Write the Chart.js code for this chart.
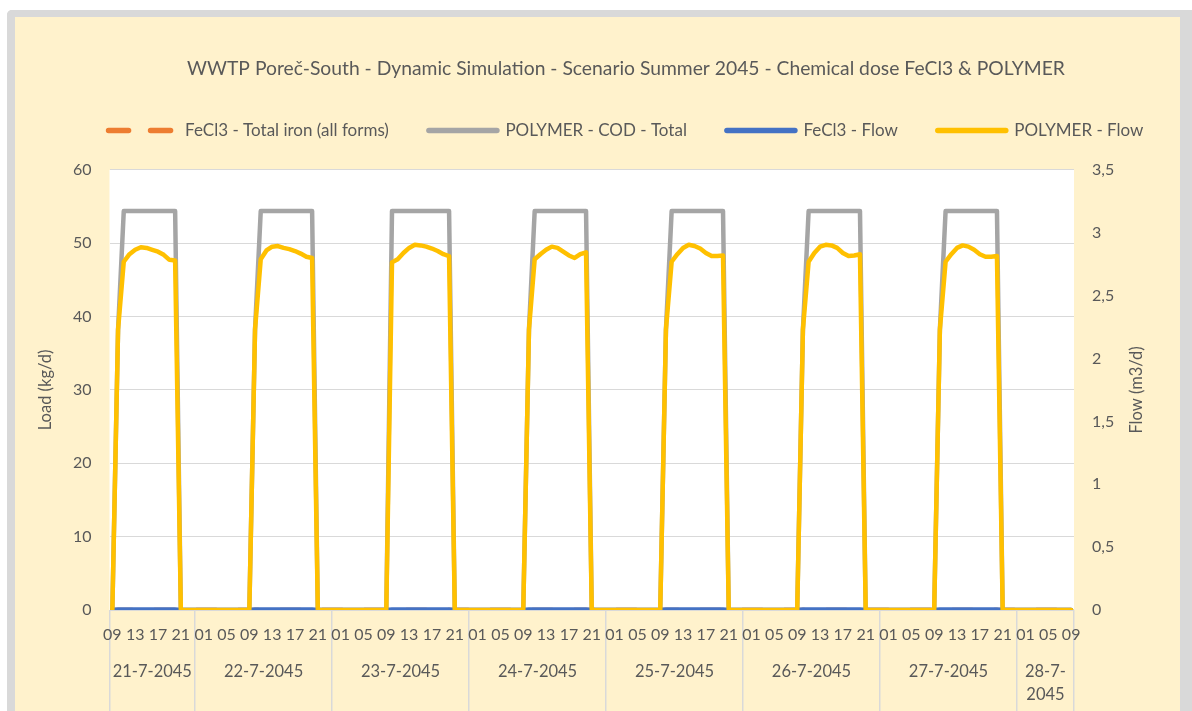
<!DOCTYPE html>
<html>
<head>
<meta charset="utf-8">
<script src="https://cdn.jsdelivr.net/npm/chart.js@4/dist/chart.umd.min.js"></script>
<style>
html,body{margin:0;padding:0;background:#ffffff;overflow:hidden;width:1192px;height:711px;}
#frame{position:absolute;left:7px;top:10px;width:1165px;height:740px;background:#fff2cc;
  border-left:8px solid #d9d9d9;border-top:7px solid #d9d9d9;border-right:12px solid #d9d9d9;border-top-left-radius:5px;}
#c{position:absolute;left:0;top:0;}
</style>
</head>
<body>
<div id="frame"></div>
<canvas id="c" width="1192" height="711" style="width:1192px;height:711px"></canvas>
<script>
// ---------- categories (hourly, 21-7-2045 09:00 to 28-7-2045 09:00) ----------
const hourLabels = [
  '09','10','11','12','13','14','15','16','17','18','19','20','21','22','23',
  '00','01','02','03','04','05','06','07','08','09','10','11','12','13','14','15','16','17','18','19','20','21','22','23',
  '00','01','02','03','04','05','06','07','08','09','10','11','12','13','14','15','16','17','18','19','20','21','22','23',
  '00','01','02','03','04','05','06','07','08','09','10','11','12','13','14','15','16','17','18','19','20','21','22','23',
  '00','01','02','03','04','05','06','07','08','09','10','11','12','13','14','15','16','17','18','19','20','21','22','23',
  '00','01','02','03','04','05','06','07','08','09','10','11','12','13','14','15','16','17','18','19','20','21','22','23',
  '00','01','02','03','04','05','06','07','08','09','10','11','12','13','14','15','16','17','18','19','20','21','22','23',
  '00','01','02','03','04','05','06','07','08','09'
];
const hourStep = 4;
const dayLabels = ['21-7-2045','22-7-2045','23-7-2045','24-7-2045','25-7-2045','26-7-2045','27-7-2045',['28-7-','2045']];
const dayHours = [15, 24, 24, 24, 24, 24, 24, 10];

// ---------- tick labels ----------
const loadTicks = [0, 10, 20, 30, 40, 50, 60];
const flowTicks = [0, 0.5, 1, 1.5, 2, 2.5, 3, 3.5];

// ---------- series ----------
// FeCl3 - Total iron (all forms)  [kg/d, left axis]
const fecl3Iron = [
  0,0,0,0,0,0,0,0,0,0,0,0,0,0,0,
  0,0,0,0,0,0,0,0,0,0,0,0,0,0,0,0,0,0,0,0,0,0,0,0,
  0,0,0,0,0,0,0,0,0,0,0,0,0,0,0,0,0,0,0,0,0,0,0,0,
  0,0,0,0,0,0,0,0,0,0,0,0,0,0,0,0,0,0,0,0,0,0,0,0,
  0,0,0,0,0,0,0,0,0,0,0,0,0,0,0,0,0,0,0,0,0,0,0,0,
  0,0,0,0,0,0,0,0,0,0,0,0,0,0,0,0,0,0,0,0,0,0,0,0,
  0,0,0,0,0,0,0,0,0,0,0,0,0,0,0,0,0,0,0,0,0,0,0,0,
  0,0,0,0,0,0,0,0,0,0
];
// POLYMER - COD - Total  [kg/d, left axis]
const polymerCod = [
  0,38.2,54.4,54.4,54.4,54.4,54.4,54.4,54.4,54.4,54.4,54.4,0,0,0,
  0,0,0,0,0,0,0,0,0,0,38.2,54.4,54.4,54.4,54.4,54.4,54.4,54.4,54.4,54.4,54.4,0,0,0,
  0,0,0,0,0,0,0,0,0,0,54.4,54.4,54.4,54.4,54.4,54.4,54.4,54.4,54.4,54.4,54.4,0,0,0,
  0,0,0,0,0,0,0,0,0,0,38.2,54.4,54.4,54.4,54.4,54.4,54.4,54.4,54.4,54.4,54.4,0,0,0,
  0,0,0,0,0,0,0,0,0,0,38.2,54.4,54.4,54.4,54.4,54.4,54.4,54.4,54.4,54.4,54.4,0,0,0,
  0,0,0,0,0,0,0,0,0,0,38.2,54.4,54.4,54.4,54.4,54.4,54.4,54.4,54.4,54.4,54.4,0,0,0,
  0,0,0,0,0,0,0,0,0,0,38.2,54.4,54.4,54.4,54.4,54.4,54.4,54.4,54.4,54.4,54.4,0,0,0,
  0,0,0,0,0,0,0,0,0,0
];
// FeCl3 - Flow  [m3/d, right axis]
const fecl3Flow = [
  0,0.004,0.004,0.004,0.004,0.004,0.004,0.004,0.004,0.004,0.004,0.004,0,0,0,
  0,0,0,0,0,0,0,0,0,0,0.004,0.004,0.004,0.004,0.004,0.004,0.004,0.004,0.004,0.004,0.004,0,0,0,
  0,0,0,0,0,0,0,0,0,0,0.004,0.004,0.004,0.004,0.004,0.004,0.004,0.004,0.004,0.004,0.004,0,0,0,
  0,0,0,0,0,0,0,0,0,0,0.004,0.004,0.004,0.004,0.004,0.004,0.004,0.004,0.004,0.004,0.004,0,0,0,
  0,0,0,0,0,0,0,0,0,0,0.004,0.004,0.004,0.004,0.004,0.004,0.004,0.004,0.004,0.004,0.004,0,0,0,
  0,0,0,0,0,0,0,0,0,0,0.004,0.004,0.004,0.004,0.004,0.004,0.004,0.004,0.004,0.004,0.004,0,0,0,
  0,0,0,0,0,0,0,0,0,0,0.004,0.004,0.004,0.004,0.004,0.004,0.004,0.004,0.004,0.004,0.004,0,0,0,
  0,0,0,0,0,0,0,0,0,0
];
// POLYMER - Flow  [m3/d, right axis]
const polymerFlow = [
  0,2.23,2.77,2.83,2.865,2.885,2.88,2.865,2.85,2.825,2.785,2.78,0,0,0,
  0,0,0,0,0,0,0,0,0,0,2.23,2.79,2.86,2.89,2.895,2.88,2.87,2.855,2.835,2.81,2.80,0,0,0,
  0,0,0,0,0,0,0,0,0,0,2.765,2.79,2.84,2.88,2.905,2.90,2.89,2.875,2.855,2.83,2.815,0,0,0,
  0,0,0,0,0,0,0,0,0,0,2.23,2.79,2.83,2.865,2.89,2.88,2.85,2.82,2.80,2.83,2.845,0,0,0,
  0,0,0,0,0,0,0,0,0,0,2.23,2.77,2.83,2.88,2.905,2.895,2.875,2.84,2.815,2.815,2.82,0,0,0,
  0,0,0,0,0,0,0,0,0,0,2.23,2.77,2.84,2.89,2.905,2.90,2.88,2.84,2.815,2.82,2.83,0,0,0,
  0,0,0,0,0,0,0,0,0,0,2.23,2.77,2.83,2.88,2.90,2.89,2.865,2.83,2.81,2.81,2.815,0,0,0,
  0,0,0,0,0,0,0,0,0,0
];

const titleText = 'WWTP Poreč-South - Dynamic Simulation - Scenario Summer 2045 - Chemical dose FeCl3 & POLYMER';
const loadAxisTitle = 'Load (kg/d)';
const flowAxisTitle = 'Flow (m3/d)';

// ---------- derived positions of day groups (category units) ----------
const dayBounds = [-0.5];
const dayCenters = [];
let acc = 0;
dayHours.forEach(h => { dayCenters.push(acc + (h - 1) / 2); acc += h; dayBounds.push(acc - 0.5); });
const lastIndex = hourLabels.length - 1;

const TXT = '#595959';
const FAM = "Lato, 'Open Sans', sans-serif";
Chart.defaults.font.family = FAM;
Chart.defaults.font.size = 16;
Chart.defaults.color = TXT;

const paperPlugin = {
  id: 'paper',
  beforeDraw(chart) {
    const {ctx, chartArea: a} = chart;
    ctx.save();
    ctx.fillStyle = '#ffffff';
    ctx.fillRect(a.left, a.top, a.right - a.left, a.bottom - a.top);
    ctx.restore();
  },
  afterDraw(chart) {
    const s = chart.scales.yFlow;
    const ctx = chart.ctx;
    ctx.save();
    ctx.font = '16.5px ' + FAM;
    ctx.fillStyle = TXT;
    ctx.textAlign = 'center';
    ctx.textBaseline = 'middle';
    ctx.translate(s.left + 62.7, (s.top + s.bottom) / 2);
    ctx.rotate(-Math.PI / 2);
    ctx.fillText(flowAxisTitle, 0, 0);
    ctx.restore();
  }
};

const common = {borderWidth: 4.5, pointRadius: 0, pointHoverRadius: 0, tension: 0, fill: false,
  borderJoinStyle: 'round', borderCapStyle: 'round', xAxisID: 'x'};

new Chart(document.getElementById('c'), {
  type: 'line',
  data: {
    labels: hourLabels,
    datasets: [
      Object.assign({label: 'FeCl3 - Total iron (all forms)', data: fecl3Iron, yAxisID: 'yLoad',
        borderColor: '#ed7d31', backgroundColor: '#ed7d31', borderDash: [20, 22], order: 3}, common),
      Object.assign({label: 'POLYMER - COD - Total', data: polymerCod, yAxisID: 'yLoad',
        borderColor: '#a5a5a5', backgroundColor: '#a5a5a5', order: 2}, common),
      Object.assign({label: 'FeCl3 - Flow', data: fecl3Flow, yAxisID: 'yFlow',
        borderColor: '#4472c4', backgroundColor: '#4472c4', order: 1}, common),
      Object.assign({label: 'POLYMER - Flow', data: polymerFlow, yAxisID: 'yFlow',
        borderColor: '#ffc000', backgroundColor: '#ffc000', order: 0}, common)
    ]
  },
  plugins: [paperPlugin],
  options: {
    responsive: false,
    animation: false,
    devicePixelRatio: 1,
    events: [],
    layout: {padding: {left: 0, right: -60, top: 0, bottom: 0}},
    plugins: {
      tooltip: {enabled: false},
      title: {display: true, text: titleText, color: TXT, font: {size: 19.3, weight: 'normal', lineHeight: 1.2},
        padding: {top: 57, bottom: 1.8}},
      legend: {
        display: true, position: 'top', align: 'center',
        labels: {
          usePointStyle: true, pointStyleWidth: 68, padding: 40, color: TXT, font: {size: 17, lineHeight: 18 / 17},
          generateLabels(chart) {
            return chart.data.datasets.map((ds, i) => ({
              text: ds.label, datasetIndex: i, hidden: false,
              strokeStyle: ds.borderColor, fillStyle: ds.borderColor, fontColor: TXT,
              lineWidth: 5.5, lineCap: 'round', lineJoin: 'round',
              lineDash: ds.borderDash || [], lineDashOffset: 0, pointStyle: 'line'
            }));
          }
        }
      }
    },
    scales: {
      xSpacer: {type: 'category', position: 'top', weight: 0,
        grid: {display: false}, border: {display: false}, ticks: {display: false},
        afterFit(s) { s.height = 21; }},
      xLines: {type: 'linear', position: 'bottom', weight: 0, min: -0.5, max: lastIndex + 0.5,
        afterBuildTicks(s) { s.ticks = dayBounds.map(v => ({value: v})); },
        grid: {display: true, drawOnChartArea: false, drawTicks: true, tickLength: 110, color: '#d9d9d9', lineWidth: 1.5},
        border: {display: false}, ticks: {display: false},
        afterFit(s) { s.height = 0; }},
      x: {type: 'category', position: 'bottom', weight: 1, offset: true,
        grid: {display: false, drawTicks: false}, border: {display: false},
        ticks: {autoSkip: false, maxRotation: 0, minRotation: 0, padding: 15.5, color: TXT, font: {size: 16, lineHeight: 1.2},
          callback: (v, i) => (i % hourStep === 0 ? hourLabels[i] : '')},
        afterFit(s) { s.height = 45; }},
      xDays: {type: 'linear', position: 'bottom', weight: 2, min: -0.5, max: lastIndex + 0.5,
        afterBuildTicks(s) { s.ticks = dayCenters.map(v => ({value: v})); },
        grid: {display: false, drawTicks: false}, border: {display: false},
        ticks: {autoSkip: false, maxRotation: 0, minRotation: 0, padding: 5, color: TXT,
          font: {size: 16.5, lineHeight: 23 / 16.5}, callback: (v, i) => dayLabels[i]},
        afterFit(s) { s.height = 56; }},
      yLoad: {type: 'linear', position: 'left', min: 0, max: 60,
        afterBuildTicks(s) { s.ticks = loadTicks.map(v => ({value: v})); },
        grid: {color: '#d9d9d9', lineWidth: 1, drawTicks: false}, border: {display: false},
        ticks: {padding: 18, color: TXT, font: {size: 16}},
        title: {display: true, text: loadAxisTitle, color: TXT, font: {size: 16.5, lineHeight: 18 / 16.5}, padding: {top: 37, bottom: 0}},
        afterFit(s) { s.width = 109.5; }},
      yFlow: {type: 'linear', position: 'right', min: 0, max: 3.5,
        afterBuildTicks(s) { s.ticks = flowTicks.map(v => ({value: v})); },
        grid: {display: false, drawTicks: false}, border: {display: false},
        ticks: {padding: 18, color: TXT, font: {size: 16}, callback: v => String(v).replace('.', ',')},
        afterFit(s) { s.width = 178; }}
    }
  }
});
</script>
</body>
</html>
